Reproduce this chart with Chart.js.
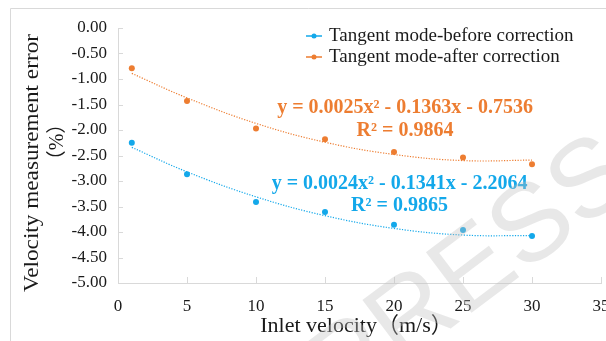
<!DOCTYPE html>
<html>
<head>
<meta charset="UTF-8">
<title>Velocity measurement error</title>
<script src="https://cdn.jsdelivr.net/npm/chart.js"></script>
<style>
    html, body { margin: 0; padding: 0; background: #fff; }
    #wrap { width: 606px; height: 341px; position: relative; }
</style>
</head>
<body>
<div id="wrap"><canvas id="errChart" width="606" height="341"></canvas></div>
<script>
// inlet velocity (m/s)
const velocity = [1, 5, 10, 15, 20, 25, 30];
// measured error (%)
const beforeErr = [-2.25, -2.87, -3.41, -3.61, -3.86, -3.96, -4.08];
const afterErr = [-0.79, -1.43, -1.97, -2.18, -2.43, -2.54, -2.67];
// polynomial trend line values at the same velocities
const trendBefore = [-2.34, -2.82, -3.31, -3.68, -3.93, -4.06, -4.07];
const trendAfter = [-0.89, -1.37, -1.87, -2.24, -2.48, -2.60, -2.59];
const xTicks = [0, 5, 10, 15, 20, 25, 30, 35];
const yTicks = [0, -0.5, -1, -1.5, -2, -2.5, -3, -3.5, -4, -4.5, -5];

const BLUE = '#13A8EA';
const ORANGE = '#ED7D31';
const SERIF = '"Liberation Serif", "Times New Roman", "Noto Sans CJK SC", serif';

const toPts = (ys) => velocity.map((v, i) => ({ x: v, y: ys[i] }));

// inside tick marks, frame, titles, legend, equations, watermark
const decor = {
    id: 'decor',
    beforeDraw(chart) {
        const ctx = chart.ctx;
        ctx.save();
        ctx.strokeStyle = '#d9d9d9';
        ctx.lineWidth = 1;
        ctx.beginPath();
        ctx.moveTo(10.5, 341);
        ctx.lineTo(10.5, 8.5);
        ctx.lineTo(606, 8.5);
        ctx.stroke();
        ctx.restore();
    },
    afterDraw(chart) {
        const ctx = chart.ctx;
        const xs = chart.scales.x, ys = chart.scales.y;
        const area = chart.chartArea;
        ctx.save();
        ctx.strokeStyle = '#d9d9d9';
        ctx.lineWidth = 1;
        ctx.beginPath();
        xTicks.forEach(t => {
            const px = Math.round(xs.getPixelForValue(t)) + 0.5;
            ctx.moveTo(px, area.bottom);
            ctx.lineTo(px, area.bottom - 6);
        });
        yTicks.forEach(t => {
            const py = Math.round(ys.getPixelForValue(t)) + 0.5;
            ctx.moveTo(area.left, py);
            ctx.lineTo(area.left + 5, py);
        });
        ctx.stroke();

        // axis titles
        ctx.fillStyle = '#1a1a1a';
        ctx.textAlign = 'center';
        ctx.textBaseline = 'middle';
        ctx.font = '22px ' + SERIF;
        ctx.fillText('Inlet velocity（m/s）', (area.left + area.right) / 2 - 3, 326);

        ctx.save();
        ctx.translate(32, 163);
        ctx.rotate(-Math.PI / 2);
        ctx.font = '22px ' + SERIF;
        const t1 = 'Velocity measurement error';
        const w = ctx.measureText(t1).width;
        ctx.scale(258 / w, 1);
        ctx.fillText(t1, 0, 0);
        ctx.restore();
        ctx.save();
        ctx.translate(58, 142);
        ctx.rotate(-Math.PI / 2);
        ctx.font = '20px ' + SERIF;
        ctx.fillText('（%）', 0, 0);
        ctx.restore();

        // legend
        const items = [chart.data.datasets[0], chart.data.datasets[1]];
        ctx.font = '19px ' + SERIF;
        ctx.textAlign = 'left';
        items.forEach((ds, i) => {
            const y = 36 + i * 21;
            ctx.strokeStyle = ds.borderColor;
            ctx.lineWidth = 1.5;
            ctx.beginPath();
            ctx.moveTo(306, y);
            ctx.lineTo(322, y);
            ctx.stroke();
            ctx.fillStyle = ds.backgroundColor;
            ctx.beginPath();
            ctx.arc(314, y, 2.5, 0, Math.PI * 2);
            ctx.fill();
            ctx.fillStyle = '#1a1a1a';
            ctx.fillText(ds.label, 329, y);
        });

        // trend equations
        ctx.textAlign = 'center';
        ctx.font = 'bold 20px ' + SERIF;
        ctx.fillStyle = ORANGE;
        ctx.fillText('y = 0.0025x² - 0.1363x - 0.7536', xs.getPixelForValue(20.8), ys.getPixelForValue(-1.57));
        ctx.fillText('R² = 0.9864', xs.getPixelForValue(20.8), ys.getPixelForValue(-2.02));
        ctx.fillStyle = BLUE;
        ctx.fillText('y = 0.0024x² - 0.1341x - 2.2064', xs.getPixelForValue(20.4), ys.getPixelForValue(-3.06));
        ctx.fillText('R² = 0.9865', xs.getPixelForValue(20.4), ys.getPixelForValue(-3.49));

        // watermark
        ctx.save();
        ctx.translate(324, 386);
        ctx.rotate(-37 * Math.PI / 180);
        ctx.textAlign = 'left';
        ctx.font = '110px "Liberation Sans", Arial, sans-serif';
        ctx.fillStyle = 'rgba(190, 190, 190, 0.36)';
        ctx.fillText('PRESS', 0, 0);
        ctx.restore();
        ctx.restore();
    }
};

new Chart(document.getElementById('errChart'), {
    type: 'scatter',
    data: {
        datasets: [
            {
                label: 'Tangent mode-before correction',
                data: toPts(beforeErr),
                borderColor: BLUE,
                backgroundColor: BLUE,
                pointRadius: 3,
                pointBorderWidth: 0,
                showLine: false
            },
            {
                label: 'Tangent mode-after correction',
                data: toPts(afterErr),
                borderColor: ORANGE,
                backgroundColor: ORANGE,
                pointRadius: 3,
                pointBorderWidth: 0,
                showLine: false
            },
            {
                label: 'trend before',
                data: toPts(trendBefore),
                borderColor: BLUE,
                borderWidth: 1.2,
                borderDash: [1.2, 1.5],
                pointRadius: 0,
                showLine: true,
                tension: 0.4
            },
            {
                label: 'trend after',
                data: toPts(trendAfter),
                borderColor: ORANGE,
                borderWidth: 1.2,
                borderDash: [1.2, 1.5],
                pointRadius: 0,
                showLine: true,
                tension: 0.4
            }
        ]
    },
    options: {
        responsive: false,
        animation: false,
        layout: { padding: { top: 28, right: 5, left: 0, bottom: 0 } },
        plugins: {
            legend: { display: false },
            tooltip: { enabled: false }
        },
        scales: {
            x: {
                type: 'linear',
                min: 0,
                max: 35,
                afterFit: (s) => { s.height = 58; s.paddingLeft = 0; s.paddingRight = 0; },
                afterBuildTicks: (s) => { s.ticks = xTicks.map(v => ({ value: v })); },
                grid: { display: true, drawOnChartArea: false, drawTicks: false },
                border: { color: '#d9d9d9', width: 1 },
                ticks: {
                    padding: 13,
                    color: '#1a1a1a',
                    font: { family: SERIF, size: 17 },
                    maxRotation: 0
                }
            },
            y: {
                min: -5,
                max: 0,
                afterFit: (s) => { s.width = 118; s.paddingTop = 0; s.paddingBottom = 0; },
                afterBuildTicks: (s) => { s.ticks = yTicks.map(v => ({ value: v })); },
                grid: { display: true, drawOnChartArea: false, drawTicks: false },
                border: { color: '#d9d9d9', width: 1 },
                ticks: {
                    padding: 11,
                    color: '#1a1a1a',
                    font: { family: SERIF, size: 17 },
                    callback: (v) => Number(v).toFixed(2)
                }
            }
        }
    },
    plugins: [decor]
});
</script>
</body>
</html>
